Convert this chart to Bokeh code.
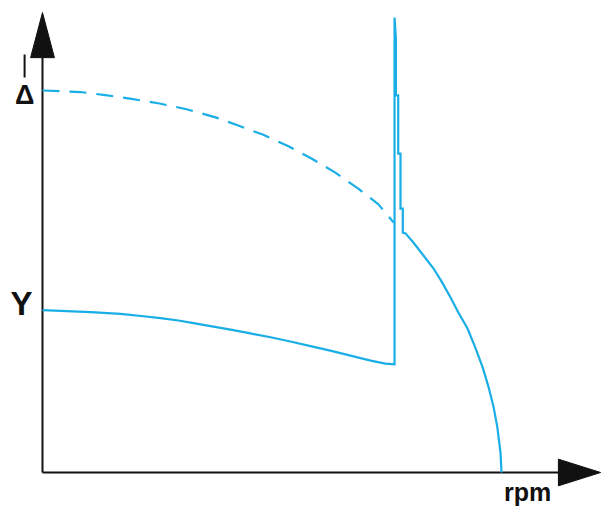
from bokeh.plotting import figure
from bokeh.models import Range1d
from bokeh.core.properties import value
from bokeh.embed import file_html
from bokeh.resources import INLINE

# speed in % of synchronous speed, torque in % of delta starting torque
star_rpm = [0, 10.5, 17.0, 22.0, 25.7, 29.6, 32.9, 36.6, 41.0, 45.3, 49.7, 54.0,
            58.4, 62.7, 67.1, 71.5, 74.7, 76.7]
star_torque = [42.5, 42.0, 41.5, 40.9, 40.4, 39.8, 39.1, 38.3, 37.4, 36.4, 35.4, 34.3,
               33.1, 31.9, 30.6, 29.3, 28.5, 28.3]

switch_rpm = [76.7, 76.7, 77.0, 77.0, 77.5, 77.5, 78.0, 78.0, 78.5, 78.5, 79.1]
switch_torque = [28.3, 119.1, 113.6, 98.7, 98.7, 83.5, 83.5, 69.1, 69.1, 62.8, 62.6]

run_rpm = [79.1, 80.8, 83.0, 85.2, 87.1, 88.9, 90.6, 92.6, 94.3, 95.9, 97.2, 98.3,
           99.1, 99.8, 100.0]
run_torque = [62.6, 60.2, 56.8, 53.4, 49.7, 45.8, 41.9, 37.7, 32.7, 27.5, 22.3, 17.0,
              11.8, 5.0, 0.0]

delta_rpm = [0, 8.3, 13.7, 19.4, 25.5, 31.4, 37.9, 42.5, 48.1, 53.6, 58.6, 63.8,
             68.8, 73.2, 76.5]
delta_torque = [100, 99.6, 98.8, 97.8, 96.6, 95.1, 92.9, 90.9, 88.4, 85.4, 82.2, 78.5,
                74.3, 70.2, 65.4]

y_labels = ["Y", "Δ"]
y_label_levels = [star_torque[0], delta_torque[0]]
x_label = "rpm"

BLUE = "#19aee6"
INK = "#111111"

p = figure(width=601, height=509, output_backend="svg", toolbar_location=None,
           x_range=Range1d(-9.150, 121.79), y_range=Range1d(-9.686, 123.56),
           min_border=0, outline_line_color=None)
p.axis.visible = False
p.grid.visible = False

# axes with arrows
p.line([0, 0], [0, 108.6], line_color=INK, line_width=2)
p.line([0, 112.4], [0, 0], line_color=INK, line_width=2)
p.patch([-2.6, 2.6, 0], [108.6, 108.6, 120.4], fill_color=INK, line_color=INK, line_width=1)
p.patch([112.4, 112.4, 121.6], [-3.5, 3.5, 0], fill_color=INK, line_color=INK, line_width=1)

# curves
p.line(delta_rpm, delta_torque, line_color=BLUE, line_width=2.2, line_dash="17 10")
p.line(star_rpm + switch_rpm + run_rpm, star_torque + switch_torque + run_torque,
       line_color=BLUE, line_width=2.2, line_join="miter")

# labels
p.text(x=[-4.6], y=[y_label_levels[0] + 1.7], text=[y_labels[0]], text_align="center",
       text_baseline="middle", text_font=value("Liberation Sans"),
       text_font_style="bold", text_font_size="33px", text_color=INK)
p.text(x=[-3.9], y=[y_label_levels[1] - 1.2], text=[y_labels[1]], text_align="center",
       text_baseline="middle", text_font=value("Liberation Sans"),
       text_font_style="bold", text_font_size="27px", text_color=INK)
p.line([-3.9, -3.9], [103.4, 109.4], line_color=INK, line_width=2)
p.text(x=[105.7], y=[-5.1], text=[x_label], text_align="center",
       text_baseline="middle", text_font=value("Liberation Sans"),
       text_font_style="bold", text_font_size="25px", text_color=INK)

open("out.html", "w").write(file_html(p, INLINE))
